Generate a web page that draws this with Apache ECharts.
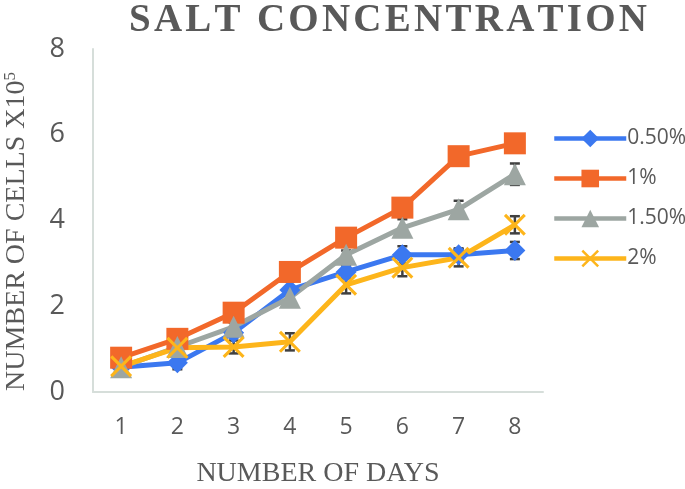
<!DOCTYPE html>
<html><head><meta charset="utf-8">
<script src="https://cdn.jsdelivr.net/npm/echarts@6/dist/echarts.min.js"></script>
<style>html,body{margin:0;padding:0;background:#fff}#c{width:685px;height:489px}</style>
</head><body><div id="c"></div>
<script>
const days = ['1','2','3','4','5','6','7','8'];
const seriesNames = ['0.50%','1%','1.50%','2%'];
const s050 = [0.58,0.68,1.38,2.38,2.8,3.2,3.2,3.3];
const s1 = [0.8,1.24,1.85,2.8,3.6,4.3,5.5,5.8];
const s150 = [0.58,1.05,1.52,2.2,3.2,3.83,4.26,5.08];
const s2 = [0.6,1.03,1.05,1.17,2.5,2.9,3.13,3.9];
const e050 = [0.05,0.15,0.1,0.2,0.15,0.2,0.15,0.2];
const e1 = [0.05,0.05,0.05,0.1,0.1,0.15,0.1,0.1];
const e150 = [0.05,0.05,0.1,0.1,0.1,0.2,0.2,0.25];
const e2 = [0.05,0.1,0.15,0.2,0.2,0.2,0.2,0.2];
const yTicks = [0,2,4,6,8];

const colors = ['#3B78F0','#F2682A','#9DA6A2','#FDB51B'];
const symbols = ['diamond','rect','triangle','path://M0,2 L2,0 L10,8 L18,0 L20,2 L12,10 L20,18 L18,20 L10,12 L2,20 L0,18 L8,10 Z'];
const sizes = [21,22,22,22];
const vals = [s050,s1,s150,s2];
const errs = [e050,e1,e150,e2];

const series = [];
vals.forEach((v,i)=>{
  series.push({
    type:'custom', silent:true, z:1,
    data: v.map((y,k)=>[k, y-errs[i][k], y+errs[i][k]]),
    renderItem:(params,api)=>{
      const lo = api.coord([api.value(0), api.value(1)]);
      const hi = api.coord([api.value(0), api.value(2)]);
      const w = 5;
      const st = {stroke:'#404040', lineWidth:2.5};
      return {type:'group', children:[
        {type:'line', shape:{x1:lo[0],y1:lo[1],x2:hi[0],y2:hi[1]}, style:st},
        {type:'line', shape:{x1:lo[0]-w,y1:lo[1],x2:lo[0]+w,y2:lo[1]}, style:st},
        {type:'line', shape:{x1:hi[0]-w,y1:hi[1],x2:hi[0]+w,y2:hi[1]}, style:st}
      ]};
    }
  });
});
vals.forEach((v,i)=>{
  series.push({
    name: seriesNames[i], type:'line', data:v, z:3,
    symbol: symbols[i], symbolSize: sizes[i], showAllSymbol:true,
    lineStyle:{color:colors[i], width:5},
    itemStyle:{color:colors[i]},
    emphasis:{disabled:true}
  });
});

const H = '\u200A';
const titleText = 'SALT CONCENTRATION'.split('').join(H);

const chart = echarts.init(document.getElementById('c'));
chart.setOption({
  animation:false,
  color: colors,
  title:{
    text: titleText,
    left:383, top:-4, textAlign:'center',
    textStyle:{fontFamily:'Liberation Serif', fontWeight:'bold', fontSize:39, color:'#595959'}
  },
  legend:{
    orient:'vertical', left:547, top:123, itemGap:19,
    itemWidth:72, itemHeight:22,
    data: seriesNames,
    lineStyle:{width:4.5},
    textStyle:{fontFamily:'Open Sans', fontSize:21, color:'#595959', padding:[0,0,0,-4]}
  },
  grid:{left:93, right:142, top:49, bottom:97, outerBoundsMode:'none', containLabel:false},
  xAxis:{
    type:'category', data:days, boundaryGap:true,
    name:'NUMBER OF DAYS', nameLocation:'middle', nameGap:68,
    nameTextStyle:{fontFamily:'Liberation Serif', fontSize:28, color:'#595959'},
    axisLine:{lineStyle:{color:'#D6DEDA', width:2}},
    axisTick:{show:false},
    axisLabel:{margin:24, fontFamily:'Open Sans', fontSize:23, color:'#595959'}
  },
  yAxis:{
    type:'value', min:0, max:8, interval:2,
    name:'{a|NUMBER OF CELLS X10}{s|5}', nameLocation:'middle', nameGap:62, nameRotate:90,
    nameTextStyle:{padding:[0,22,0,0], rich:{
      a:{fontFamily:'Liberation Serif', fontSize:28, color:'#595959'},
      s:{fontFamily:'Liberation Serif', fontSize:17, color:'#595959', verticalAlign:'top', padding:[0,0,12,0]}
    }},
    axisLine:{show:true, lineStyle:{color:'#D6DEDA', width:2}},
    axisTick:{show:false},
    splitLine:{show:false},
    axisLabel:{margin:28, fontFamily:'Open Sans', fontSize:27, color:'#595959',
      formatter:(v)=> yTicks.includes(v) ? String(v) : ''}
  },
  series: series
});
</script></body></html>
